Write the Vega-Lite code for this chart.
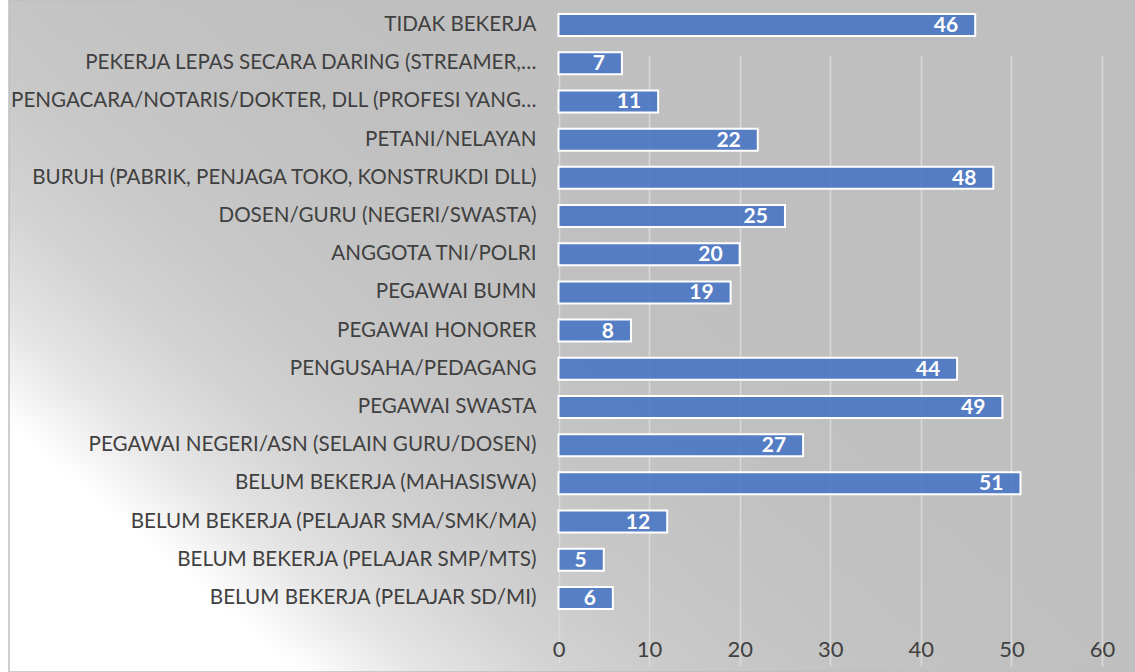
{
  "$schema": "https://vega.github.io/schema/vega-lite/v6.json",
  "autosize": "none",
  "width": 1126,
  "height": 672,
  "padding": {"left": 9, "top": 0, "right": 0, "bottom": 0},
  "background": "#ffffff",
  "data": {
    "values": [
      {"job": "TIDAK BEKERJA", "n": 46},
      {"job": "PEKERJA LEPAS SECARA DARING (STREAMER,…", "n": 7},
      {"job": "PENGACARA/NOTARIS/DOKTER, DLL (PROFESI YANG…", "n": 11},
      {"job": "PETANI/NELAYAN", "n": 22},
      {"job": "BURUH (PABRIK, PENJAGA TOKO, KONSTRUKDI DLL)", "n": 48},
      {"job": "DOSEN/GURU (NEGERI/SWASTA)", "n": 25},
      {"job": "ANGGOTA TNI/POLRI", "n": 20},
      {"job": "PEGAWAI BUMN", "n": 19},
      {"job": "PEGAWAI HONORER", "n": 8},
      {"job": "PENGUSAHA/PEDAGANG", "n": 44},
      {"job": "PEGAWAI SWASTA", "n": 49},
      {"job": "PEGAWAI NEGERI/ASN (SELAIN GURU/DOSEN)", "n": 27},
      {"job": "BELUM BEKERJA (MAHASISWA)", "n": 51},
      {"job": "BELUM BEKERJA (PELAJAR SMA/SMK/MA)", "n": 12},
      {"job": "BELUM BEKERJA (PELAJAR SMP/MTS)", "n": 5},
      {"job": "BELUM BEKERJA (PELAJAR SD/MI)", "n": 6}
    ]
  },
  "encoding": {
    "y": {
      "field": "job",
      "type": "nominal",
      "sort": null,
      "scale": {"range": [6, 617], "paddingInner": 0.424, "paddingOuter": 0.212},
      "axis": {
        "title": null,
        "offset": -549,
        "ticks": false,
        "domain": false,
        "grid": false,
        "labelFont": "Lato",
        "labelFontSize": 20.6,
        "labelColor": "#404040",
        "labelPadding": 22,
        "labelLimit": 700
      }
    },
    "x": {
      "field": "n",
      "type": "quantitative",
      "scale": {"domain": [-60.66, 63.64], "nice": false, "zero": false},
      "axis": {
        "title": null,
        "offset": -55,
        "values": [0, 10, 20, 30, 40, 50, 60],
        "grid": true,
        "gridColor": "#d9d9d9",
        "gridWidth": 1.5,
        "ticks": false,
        "domain": false,
        "labelFlush": false,
        "labelFont": "Lato",
        "labelFontSize": 22,
        "labelColor": "#404040",
        "labelPadding": 22
      }
    }
  },
  "layer": [
    {
      "mark": {"type": "bar", "fill": "#4472C4", "fillOpacity": 0.86, "stroke": "#ffffff", "strokeWidth": 2}
    },
    {
      "mark": {"type": "text", "align": "right", "baseline": "middle", "dx": -17, "dy": 1, "font": "Lato", "fontSize": 21, "fontWeight": "bold", "color": "#ffffff"},
      "encoding": {"text": {"field": "n", "type": "quantitative"}}
    }
  ],
  "config": {
    "view": {
      "stroke": "#bfbfbf",
      "strokeWidth": 1.5,
      "fill": {
        "gradient": "linear",
        "x1": 0, "y1": 1, "x2": 0.819, "y2": 0.427,
        "stops": [
          {"offset": 0, "color": "#ffffff"},
          {"offset": 0.21, "color": "#ffffff"},
          {"offset": 0.3, "color": "#e5e5e5"},
          {"offset": 0.4, "color": "#d3d3d3"},
          {"offset": 0.5, "color": "#c9c9c9"},
          {"offset": 0.6, "color": "#c4c4c4"},
          {"offset": 0.75, "color": "#c0c0c0"},
          {"offset": 1, "color": "#bfbfbf"}
        ]
      }
    }
  }
}
